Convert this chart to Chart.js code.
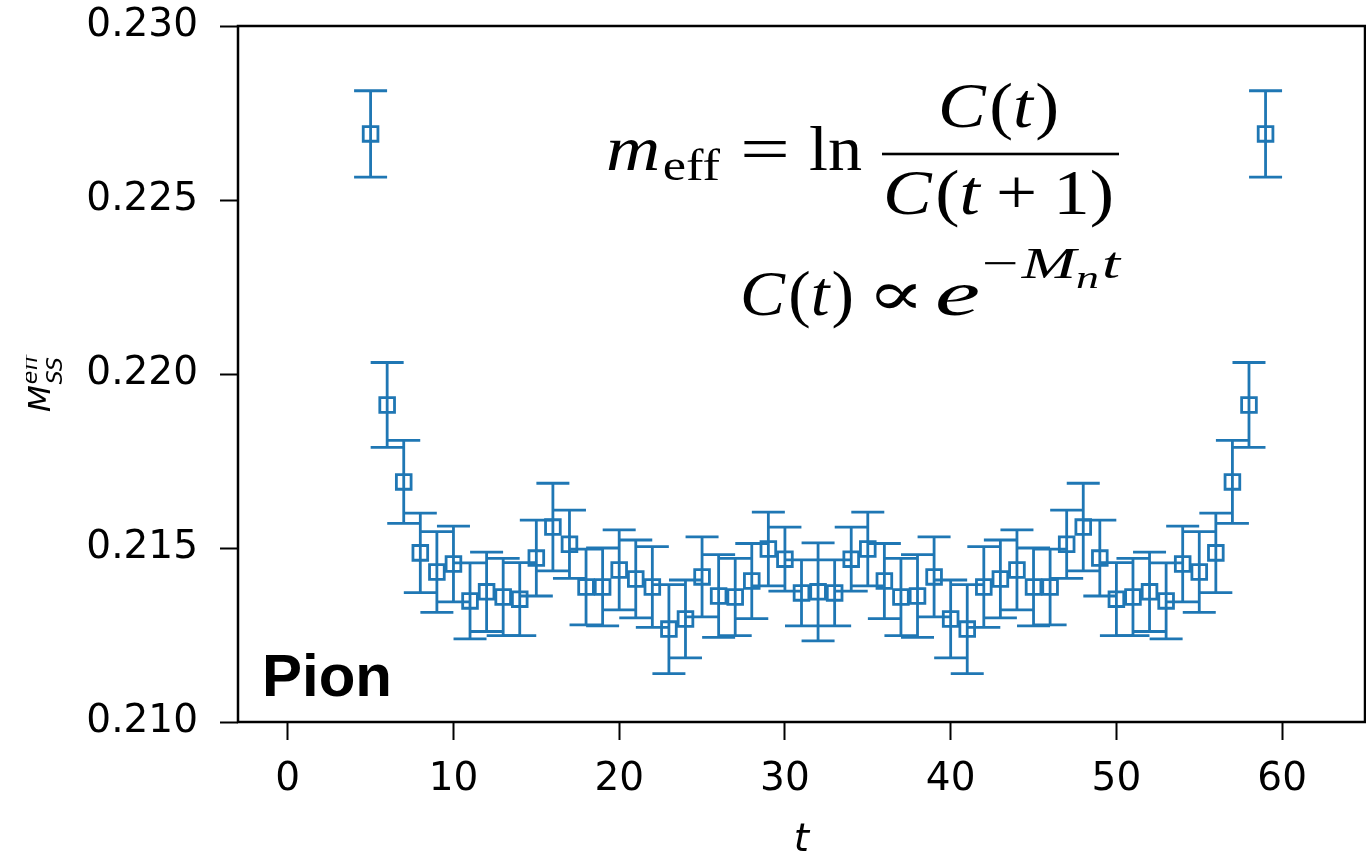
<!DOCTYPE html>
<html>
<head>
<meta charset="utf-8">
<title>Pion effective mass</title>
<script src="https://cdn.jsdelivr.net/npm/chart.js@4.4.0/dist/chart.umd.min.js"></script>
<style>
  html, body { margin: 0; padding: 0; background: #fff; }
  #wrap { width: 1366px; height: 855px; position: relative; }
</style>
</head>
<body>
<div id="wrap"><canvas id="meff"></canvas></div>
<script>
// effective mass M_SS^eff per time slice, with jackknife errors
var tValues = [
  5, 6, 7, 8, 9, 10, 11, 12, 13, 14, 15, 16, 17, 18, 19, 20, 21, 22, 23, 24,
  25, 26, 27, 28, 29, 30, 31, 32, 33, 34, 35, 36, 37, 38, 39, 40, 41, 42, 43,
  44, 45, 46, 47, 48, 49, 50, 51, 52, 53, 54, 55, 56, 57, 58, 59
];
var mEff = [
  0.22690, 0.21911, 0.21690, 0.21486, 0.21431, 0.21454, 0.21348, 0.21374,
  0.21359, 0.21353, 0.21471, 0.21560, 0.21511, 0.21388, 0.21388, 0.21437,
  0.21411, 0.21388, 0.21267, 0.21296, 0.21417, 0.21362, 0.21359, 0.21405,
  0.21497, 0.21468, 0.21371, 0.21374, 0.21371, 0.21468, 0.21497, 0.21405,
  0.21359, 0.21362, 0.21417, 0.21296, 0.21267, 0.21388, 0.21411, 0.21437,
  0.21388, 0.21388, 0.21511, 0.21560, 0.21471, 0.21353, 0.21359, 0.21374,
  0.21348, 0.21454, 0.21431, 0.21486, 0.21690, 0.21911, 0.22690
];
var mErr = [
  0.00124, 0.00122, 0.00119, 0.00114, 0.00116, 0.00109, 0.00109, 0.00114,
  0.00111, 0.00105, 0.00109, 0.00126, 0.00098, 0.00109, 0.00112, 0.00115,
  0.00112, 0.00116, 0.00128, 0.00112, 0.00115, 0.00119, 0.00111, 0.00108,
  0.00106, 0.00092, 0.00095, 0.00141, 0.00095, 0.00092, 0.00106, 0.00108,
  0.00111, 0.00119, 0.00115, 0.00112, 0.00128, 0.00116, 0.00112, 0.00115,
  0.00112, 0.00109, 0.00098, 0.00126, 0.00109, 0.00105, 0.00111, 0.00114,
  0.00109, 0.00109, 0.00116, 0.00114, 0.00119, 0.00122, 0.00124
];
var xTicks = [0, 10, 20, 30, 40, 50, 60];
var yTicks = [0.210, 0.215, 0.220, 0.225, 0.230];
var xRange = [-3, 65];
var yRange = [0.210, 0.230];

var BLUE = "#1f77b4";
var SANS = "'DejaVu Sans', sans-serif";
var SERIF = "'Liberation Serif', 'DejaVu Serif', serif";
var CAP = 16.5;

function it(size) { return "italic " + size + "px " + SERIF; }
function rm(size) { return size + "px " + SERIF; }

// draw a run of text pieces starting at x0, squeezed/stretched to width
function drawRun(ctx, pieces, x0, y0, width) {
  var widths = pieces.map(function (p) {
    ctx.font = p.font;
    return ctx.measureText(p.text).width;
  });
  var total = 0;
  pieces.forEach(function (p, i) { total += (p.gap || 0) + widths[i]; });
  var sx = width ? width / total : 1;
  ctx.save();
  ctx.translate(x0, y0);
  ctx.scale(sx, 1);
  ctx.textBaseline = "alphabetic";
  ctx.textAlign = "left";
  var cx = 0;
  pieces.forEach(function (p, i) {
    cx += p.gap || 0;
    ctx.font = p.font;
    ctx.fillText(p.text, cx, p.dy || 0);
    cx += widths[i];
  });
  ctx.restore();
}

// vertical error bars with caps, drawn under the hollow squares
var errorBars = {
  id: "errorBars",
  beforeDatasetsDraw: function (chart) {
    var ctx = chart.ctx, x = chart.scales.x, y = chart.scales.y;
    ctx.save();
    ctx.strokeStyle = BLUE;
    ctx.lineWidth = 2.8;
    tValues.forEach(function (t, i) {
      var px = x.getPixelForValue(t);
      var lo = y.getPixelForValue(mEff[i] - mErr[i]);
      var hi = y.getPixelForValue(mEff[i] + mErr[i]);
      ctx.beginPath();
      ctx.moveTo(px, lo); ctx.lineTo(px, hi);
      ctx.moveTo(px - CAP, lo); ctx.lineTo(px + CAP, lo);
      ctx.moveTo(px - CAP, hi); ctx.lineTo(px + CAP, hi);
      ctx.stroke();
    });
    ctx.restore();
  }
};

// frame, axis titles, formula and the "Pion" tag
var decorations = {
  id: "decorations",
  afterDraw: function (chart) {
    var ctx = chart.ctx, a = chart.chartArea;
    ctx.save();
    ctx.strokeStyle = "#000";
    ctx.lineWidth = 2.5;
    ctx.strokeRect(a.left, a.top, a.right - a.left, a.bottom - a.top);

    ctx.fillStyle = "#000";

    // x title
    ctx.font = "italic 39px " + SANS;
    ctx.textAlign = "center";
    ctx.textBaseline = "alphabetic";
    ctx.fillText("t", (a.left + a.right) / 2, 851);

    // y title M_SS^eff, rotated
    ctx.save();
    ctx.beginPath();
    ctx.rect(26, 0, 300, 855);
    ctx.clip();
    ctx.translate(50, 412);
    ctx.rotate(-Math.PI / 2);
    ctx.textAlign = "left";
    ctx.font = "italic 31px " + SANS;
    ctx.fillText("M", 0, 0);
    var mw = ctx.measureText("M").width;
    ctx.font = "italic 22px " + SANS;
    ctx.fillText("SS", mw + 1, 12);
    ctx.fillText("eff", mw + 1, -13);
    ctx.restore();

    // Pion tag
    ctx.font = "bold 60px 'Liberation Sans', Arial, sans-serif";
    ctx.textAlign = "left";
    ctx.fillText("Pion", 262, 696);

    // m_eff = ln C(t)/C(t+1)
    drawRun(ctx, [
      { text: "m", font: it(63) },
      { text: "eff", font: rm(44), dy: 10, gap: 2 }
    ], 606, 170, 114);
    drawRun(ctx, [{ text: "=", font: rm(63) }], 740, 170, 50);
    drawRun(ctx, [{ text: "ln", font: rm(63) }], 809, 170, 53);
    ctx.fillRect(882, 152.7, 237, 2.6);
    drawRun(ctx, [
      { text: "C", font: it(63) },
      { text: "(", font: rm(63), gap: 3 },
      { text: "t", font: it(63) },
      { text: ")", font: rm(63), gap: 2 }
    ], 938, 127, 121);
    drawRun(ctx, [
      { text: "C", font: it(63) },
      { text: "(", font: rm(63), gap: 3 },
      { text: "t", font: it(63) },
      { text: "+", font: rm(63), gap: 14 },
      { text: "1", font: rm(63), gap: 14 },
      { text: ")", font: rm(63) }
    ], 883, 214, 231);

    // C(t) ∝ e^{-M_n t}
    drawRun(ctx, [
      { text: "C", font: it(63) },
      { text: "(", font: rm(63), gap: 3 },
      { text: "t", font: it(63) },
      { text: ")", font: rm(63), gap: 2 }
    ], 740, 315, 114);
    drawRun(ctx, [{ text: "\u221D", font: rm(63) }], 867, 315, 58);
    drawRun(ctx, [{ text: "e", font: it(63) }], 935, 315, 45);
    drawRun(ctx, [
      { text: "\u2212", font: rm(44) },
      { text: "M", font: it(44), gap: 2 },
      { text: "n", font: it(31), dy: 10 },
      { text: "t", font: it(44), gap: 2 }
    ], 982, 278, 138);
    ctx.restore();
  }
};

var points = tValues.map(function (t, i) { return { x: t, y: mEff[i] }; });

function fixTicks(values) {
  return function (scale) {
    scale.ticks = values.map(function (v) { return { value: v }; });
  };
}

new Chart(document.getElementById("meff"), {
  type: "scatter",
  data: {
    datasets: [{
      data: points,
      showLine: false,
      pointStyle: "rect",
      pointRadius: 10.4,
      pointHoverRadius: 10.4,
      pointBorderWidth: 2.8,
      pointBorderColor: BLUE,
      pointBackgroundColor: "rgba(0,0,0,0)"
    }]
  },
  options: {
    responsive: true,
    maintainAspectRatio: false,
    animation: false,
    events: [],
    layout: { autoPadding: false, padding: { top: 26, right: 1, left: 0, bottom: 0 } },
    plugins: { legend: { display: false }, tooltip: { enabled: false } },
    scales: {
      x: {
        type: "linear",
        min: xRange[0],
        max: xRange[1],
        afterBuildTicks: fixTicks(xTicks),
        afterFit: function (s) { s.height = 133; },
        border: { display: false },
        grid: { display: true, drawOnChartArea: false, drawTicks: true, tickLength: 18, tickWidth: 2, tickColor: "#000" },
        ticks: {
          color: "#000",
          padding: 16,
          maxRotation: 0,
          font: { family: SANS, size: 39 },
          callback: function (v) { return String(v); }
        }
      },
      y: {
        type: "linear",
        min: yRange[0],
        max: yRange[1],
        afterBuildTicks: fixTicks(yTicks),
        afterFit: function (s) {
          s.width = 238;
          s.paddingTop = 0;
          s.paddingBottom = 0;
        },
        border: { display: false },
        grid: { display: true, drawOnChartArea: false, drawTicks: true, tickLength: 18, tickWidth: 2, tickColor: "#000" },
        ticks: {
          color: "#000",
          padding: 22,
          font: { family: SANS, size: 39 },
          callback: function (v) { return v.toFixed(3); }
        }
      }
    }
  },
  plugins: [errorBars, decorations]
});
</script>
</body>
</html>
